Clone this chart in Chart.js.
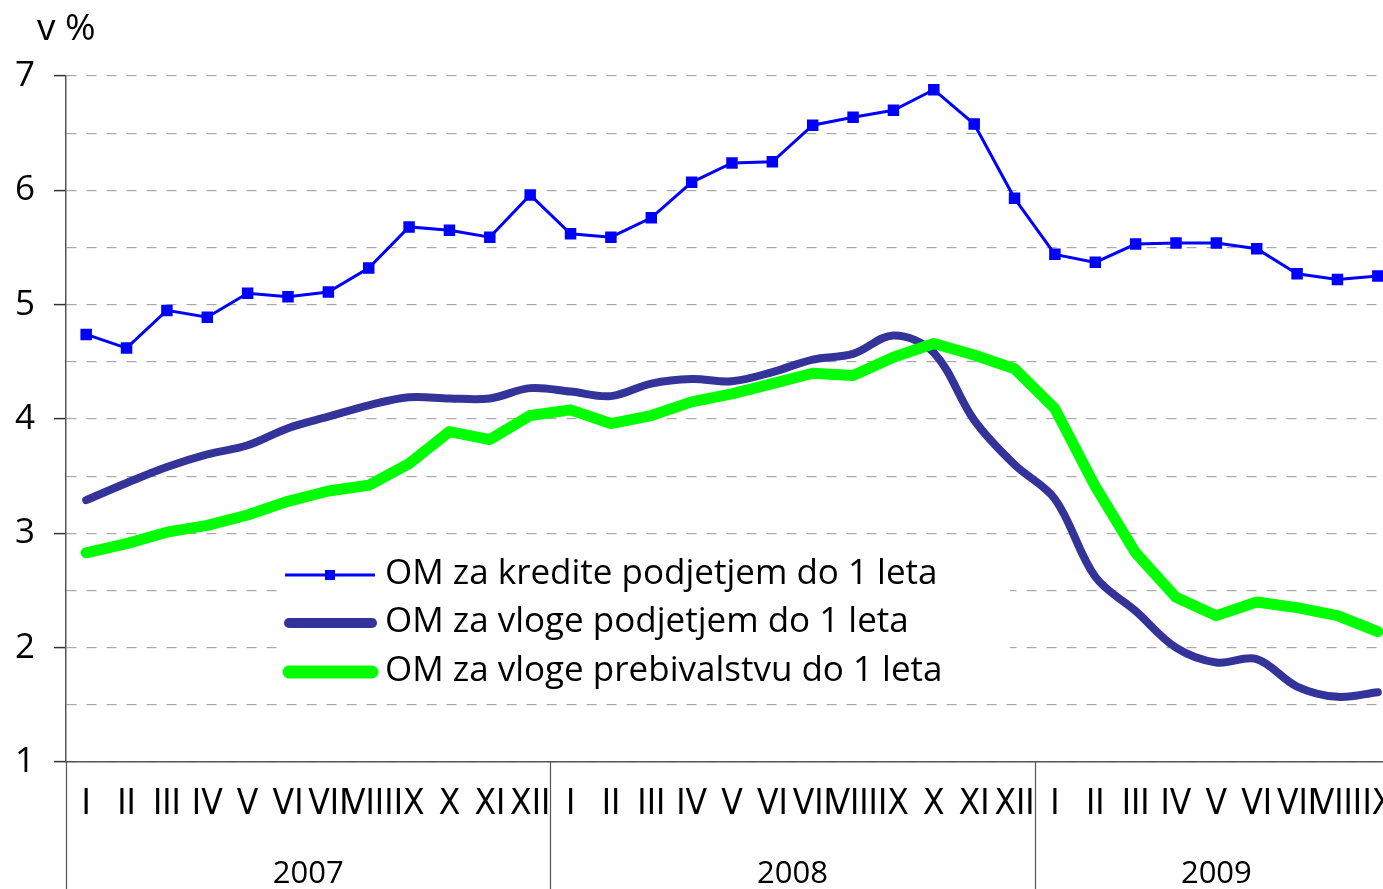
<!DOCTYPE html>
<html>
<head>
<meta charset="utf-8">
<script src="https://cdn.jsdelivr.net/npm/chart.js@4.4.1/dist/chart.umd.min.js"></script>
<style>
  html, body { margin: 0; padding: 0; background: #fff; overflow: hidden; }
  #wrap { width: 1383px; height: 889px; overflow: hidden; }
</style>
</head>
<body>
<div id="wrap"><canvas id="c" width="1407" height="889"></canvas></div>
<script>
// ---- data ----
const monthNames = ['I','II','III','IV','V','VI','VII','VIII','IX','X','XI','XII'];
const years = ['2007', '2008', '2009'];
const monthsPerYear = [12, 12, 9];
const labels = [];
years.forEach((y, i) => { for (let m = 0; m < monthsPerYear[i]; m++) labels.push(monthNames[m]); });

const seriesNames = [
  'OM za kredite podjetjem do 1 leta',
  'OM za vloge podjetjem do 1 leta',
  'OM za vloge prebivalstvu do 1 leta'
];
const kreditePodjetjem = [4.74,4.62,4.95,4.89,5.10,5.07,5.11,5.32,5.68,5.65,5.59,5.96,
                          5.62,5.59,5.76,6.07,6.24,6.25,6.57,6.64,6.70,6.88,6.58,5.93,
                          5.44,5.37,5.53,5.54,5.54,5.49,5.27,5.22,5.25];
const vlogePodjetjem = [3.29,3.44,3.58,3.69,3.77,3.92,4.02,4.12,4.19,4.18,4.18,4.27,
                        4.24,4.20,4.31,4.35,4.33,4.41,4.52,4.57,4.73,4.58,3.99,3.60,
                        3.30,2.62,2.32,2.00,1.87,1.90,1.66,1.57,1.61];
const vlogePrebivalstvu = [2.83,2.91,3.01,3.07,3.16,3.28,3.37,3.42,3.61,3.89,3.82,4.03,
                           4.08,3.96,4.03,4.15,4.22,4.31,4.40,4.38,4.54,4.66,4.56,4.44,
                           4.09,3.41,2.83,2.44,2.28,2.40,2.35,2.28,2.14];
const yMin = 1, yMax = 7, yStep = 0.5;
const yUnit = 'v %';

// ---- plugins ----
const extras = {
  id: 'extras',
  afterDraw(chart) {
    const ctx = chart.ctx;
    const xs = chart.scales.x;
    const area = chart.chartArea;
    const H = chart.height;
    ctx.save();
    // unit label
    ctx.fillStyle = '#000';
    ctx.font = '37px "Open Sans", sans-serif';
    ctx.textAlign = 'left';
    ctx.textBaseline = 'alphabetic';
    ctx.fillText(yUnit, 37, 40);

    // year separators and year labels
    const half = (xs.getPixelForValue(1) - xs.getPixelForValue(0)) / 2;
    ctx.strokeStyle = '#555';
    ctx.lineWidth = 1.2;
    let start = 0;
    ctx.font = '31px "Open Sans", sans-serif';
    ctx.textAlign = 'center';
    ctx.textBaseline = 'middle';
    years.forEach((y, i) => {
      const x0 = xs.getPixelForValue(start) - half;
      const endIdx = start + monthsPerYear[i] - 1;
      const x1 = Math.min(xs.getPixelForValue(endIdx) + half, area.right);
      ctx.beginPath();
      ctx.moveTo(Math.round(x0) + 0.5, area.bottom);
      ctx.lineTo(Math.round(x0) + 0.5, H);
      ctx.stroke();
      ctx.fillText(y, (x0 + x1) / 2, 874);
      start += monthsPerYear[i];
    });

    // legend
    const lx = 278, ly = 546, lw = 732, lh = 150;
    ctx.fillStyle = '#fff';
    ctx.fillRect(lx, ly, lw, lh);
    const rows = [575, 623, 672];
    chart.data.datasets.forEach((ds, i) => {
      const y = rows[i];
      ctx.strokeStyle = ds.borderColor;
      ctx.lineWidth = i === 0 ? 3 : ds.borderWidth + 2;
      ctx.lineCap = i === 0 ? 'butt' : 'round';
      ctx.beginPath();
      ctx.moveTo(i === 0 ? 285 : 289, y);
      ctx.lineTo(i === 0 ? 375 : 372, y);
      ctx.stroke();
      if (i === 0) {
        ctx.fillStyle = ds.borderColor;
        ctx.fillRect(330 - 5, y - 5, 10, 10);
      }
      ctx.fillStyle = '#000';
      ctx.font = '35px "Open Sans", sans-serif';
      ctx.textAlign = 'left';
      ctx.textBaseline = 'middle';
      ctx.fillText(ds.label, 385, y - 1);
    });
    ctx.restore();
  }
};

const chart = new Chart(document.getElementById('c'), {
  type: 'line',
  data: {
    labels: labels,
    datasets: [
      {
        label: seriesNames[0],
        data: kreditePodjetjem,
        borderColor: '#0000ff',
        backgroundColor: '#0000ff',
        borderWidth: 3,
        tension: 0,
        pointStyle: 'rect',
        pointRadius: 6,
        pointHoverRadius: 6,
        order: 0
      },
      {
        label: seriesNames[1],
        data: vlogePodjetjem,
        borderColor: '#333399',
        backgroundColor: '#333399',
        borderWidth: 8,
        tension: 0.35,
        pointRadius: 0,
        borderCapStyle: 'round',
        borderJoinStyle: 'round',
        order: 2
      },
      {
        label: seriesNames[2],
        data: vlogePrebivalstvu,
        borderColor: '#00ff00',
        backgroundColor: '#00ff00',
        borderWidth: 11,
        tension: 0,
        pointRadius: 0,
        borderCapStyle: 'round',
        borderJoinStyle: 'round',
        order: 1
      }
    ]
  },
  options: {
    responsive: false,
    animation: false,
    devicePixelRatio: 1,
    layout: { padding: { top: 76, right: 4, left: 0, bottom: 0 } },
    plugins: { legend: { display: false }, tooltip: { enabled: false }, title: { display: false } },
    scales: {
      x: {
        type: 'category',
        offset: true,
        grid: { display: true, drawOnChartArea: false, drawTicks: true, tickLength: 21, tickColor: 'rgba(0,0,0,0)' },
        border: { display: true, color: '#555', width: 1.5 },
        ticks: {
          autoSkip: false,
          maxRotation: 0,
          minRotation: 0,
          padding: 1,
          color: '#000',
          font: { family: '"Liberation Sans Narrow", "DejaVu Sans Condensed", sans-serif', size: 35 }
        },
        afterFit(s) { s.height = 127; }
      },
      y: {
        min: yMin,
        max: yMax,
        grid: {
          color: '#a8a8a8',
          lineWidth: 1.2,
          tickLength: 12,
          tickColor: (c) => (c.tick && Number.isInteger(c.tick.value)) ? '#333' : 'rgba(0,0,0,0)',
          tickWidth: 1.5
        },
        border: { display: true, color: '#555', width: 1.5, dash: [10, 10] },
        ticks: {
          stepSize: yStep,
          padding: 19,
          color: '#000',
          font: { family: '"Open Sans", sans-serif', size: 35 },
          callback: (v) => Number.isInteger(v) ? String(v) : ''
        },
        afterFit(s) { s.width = 66; }
      }
    }
  },
  plugins: [extras]
});
</script>
</body>
</html>
